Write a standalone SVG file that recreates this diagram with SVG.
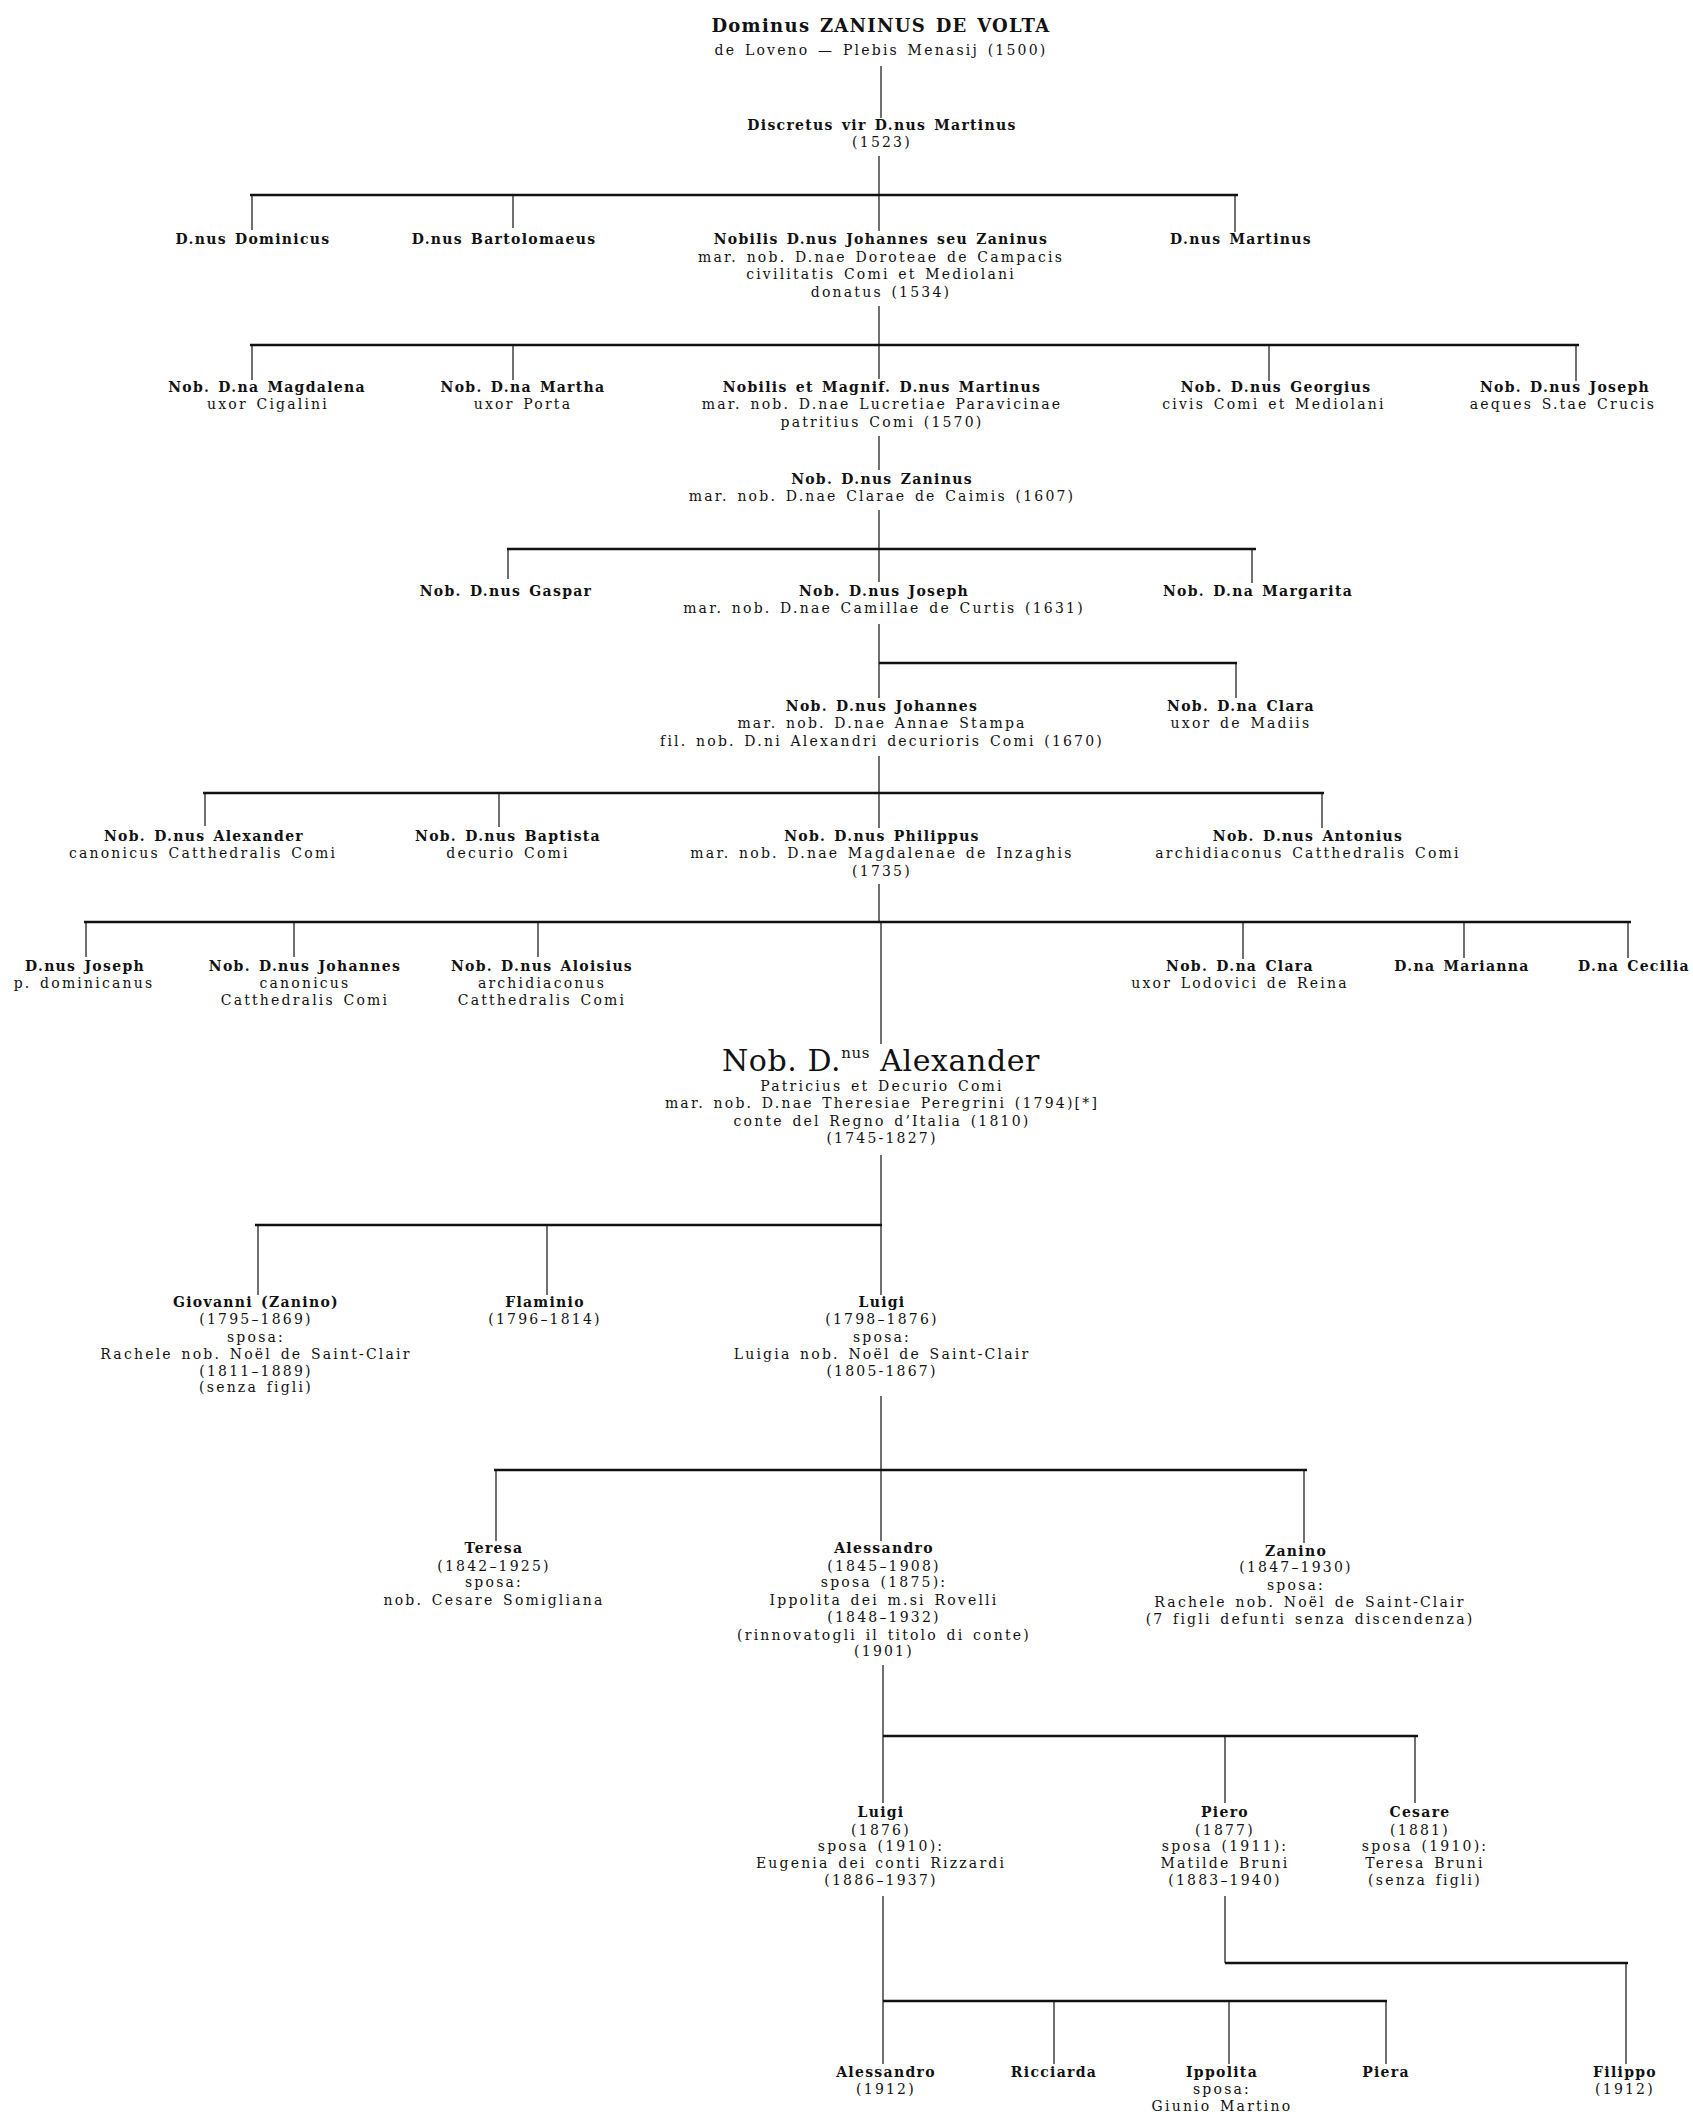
<svg xmlns="http://www.w3.org/2000/svg" width="1693" height="2121" viewBox="0 0 1693 2121">
<style>
text{font-family:"DejaVu Serif","Liberation Serif",serif;font-size:14px;text-anchor:middle;fill:#111;letter-spacing:2.2px;word-spacing:2px}
.b{font-weight:bold;letter-spacing:1.3px}
.t{font-size:18px}
.big{font-size:30px;letter-spacing:0.6px;word-spacing:0}
.sup{font-size:15px}
.h{stroke:#111;stroke-width:2.6}
.v{stroke:#111;stroke-width:1.2}
</style>
<rect width="1693" height="2121" fill="#fff"/>
<g id="connectors">
<line class="v" x1="881" y1="66" x2="881" y2="118"/>
<line class="v" x1="879" y1="156" x2="879" y2="195"/>
<line class="h" x1="250" y1="195" x2="1238" y2="195"/>
<line class="v" x1="252" y1="195" x2="252" y2="230"/>
<line class="v" x1="513" y1="195" x2="513" y2="228"/>
<line class="v" x1="879" y1="195" x2="879" y2="231"/>
<line class="v" x1="1235" y1="195" x2="1235" y2="232"/>
<line class="v" x1="879" y1="306" x2="879" y2="345"/>
<line class="h" x1="250" y1="345" x2="1579" y2="345"/>
<line class="v" x1="252" y1="345" x2="252" y2="380"/>
<line class="v" x1="513" y1="345" x2="513" y2="380"/>
<line class="v" x1="879" y1="345" x2="879" y2="379"/>
<line class="v" x1="1269" y1="345" x2="1269" y2="381"/>
<line class="v" x1="1576" y1="345" x2="1576" y2="381"/>
<line class="v" x1="879" y1="436" x2="879" y2="470"/>
<line class="v" x1="879" y1="510" x2="879" y2="549"/>
<line class="h" x1="507" y1="549" x2="1256" y2="549"/>
<line class="v" x1="508" y1="549" x2="508" y2="579"/>
<line class="v" x1="879" y1="549" x2="879" y2="582"/>
<line class="v" x1="1252" y1="549" x2="1252" y2="583"/>
<line class="v" x1="879" y1="624" x2="879" y2="698"/>
<line class="h" x1="879" y1="663" x2="1237" y2="663"/>
<line class="v" x1="1236" y1="663" x2="1236" y2="698"/>
<line class="v" x1="879" y1="756" x2="879" y2="793"/>
<line class="h" x1="203" y1="793" x2="1324" y2="793"/>
<line class="v" x1="205" y1="793" x2="205" y2="826"/>
<line class="v" x1="499" y1="793" x2="499" y2="827"/>
<line class="v" x1="879" y1="793" x2="879" y2="828"/>
<line class="v" x1="1322" y1="793" x2="1322" y2="828"/>
<line class="v" x1="879" y1="884" x2="879" y2="922"/>
<line class="h" x1="84" y1="922" x2="1631" y2="922"/>
<line class="v" x1="86" y1="922" x2="86" y2="957"/>
<line class="v" x1="294" y1="922" x2="294" y2="957"/>
<line class="v" x1="538" y1="922" x2="538" y2="957"/>
<line class="v" x1="881" y1="922" x2="881" y2="1044"/>
<line class="v" x1="1243" y1="922" x2="1243" y2="959"/>
<line class="v" x1="1464" y1="922" x2="1464" y2="958"/>
<line class="v" x1="1628" y1="922" x2="1628" y2="958"/>
<line class="v" x1="881" y1="1155" x2="881" y2="1225"/>
<line class="h" x1="255" y1="1225" x2="882" y2="1225"/>
<line class="v" x1="258" y1="1225" x2="258" y2="1295"/>
<line class="v" x1="547" y1="1225" x2="547" y2="1295"/>
<line class="v" x1="881" y1="1225" x2="881" y2="1295"/>
<line class="v" x1="881" y1="1396" x2="881" y2="1470"/>
<line class="h" x1="494" y1="1470" x2="1307" y2="1470"/>
<line class="v" x1="496" y1="1470" x2="496" y2="1541"/>
<line class="v" x1="881" y1="1470" x2="881" y2="1541"/>
<line class="v" x1="1304" y1="1470" x2="1304" y2="1543"/>
<line class="v" x1="883" y1="1665" x2="883" y2="1736"/>
<line class="h" x1="883" y1="1736" x2="1418" y2="1736"/>
<line class="v" x1="883" y1="1736" x2="883" y2="1803"/>
<line class="v" x1="1225" y1="1736" x2="1225" y2="1803"/>
<line class="v" x1="1415" y1="1736" x2="1415" y2="1803"/>
<line class="v" x1="883" y1="1896" x2="883" y2="2064"/>
<line class="v" x1="1225" y1="1896" x2="1225" y2="1963"/>
<line class="h" x1="1225" y1="1963" x2="1628" y2="1963"/>
<line class="v" x1="1626" y1="1963" x2="1626" y2="2064"/>
<line class="h" x1="883" y1="2001" x2="1387" y2="2001"/>
<line class="v" x1="1054" y1="2001" x2="1054" y2="2064"/>
<line class="v" x1="1229" y1="2001" x2="1229" y2="2064"/>
<line class="v" x1="1386" y1="2001" x2="1386" y2="2064"/>
</g>
<g id="n-zaninus-root"><text class="b t" x="881" y="32">Dominus ZANINUS DE VOLTA</text><text x="881" y="55">de Loveno — Plebis Menasij (1500)</text></g>
<g id="n-martinus-1523"><text class="b" x="882" y="130">Discretus vir D.nus Martinus</text><text x="882" y="147">(1523)</text></g>
<g id="n-dominicus"><text class="b" x="253" y="244">D.nus Dominicus</text></g>
<g id="n-bartolomaeus"><text class="b" x="504" y="244">D.nus Bartolomaeus</text></g>
<g id="n-johannes-1534"><text class="b" x="881" y="244">Nobilis D.nus Johannes seu Zaninus</text><text x="881" y="261.5">mar. nob. D.nae Doroteae de Campacis</text><text x="881" y="279">civilitatis Comi et Mediolani</text><text x="881" y="296.5">donatus (1534)</text></g>
<g id="n-martinus-2"><text class="b" x="1241" y="244">D.nus Martinus</text></g>
<g id="n-magdalena"><text class="b" x="267" y="392">Nob. D.na Magdalena</text><text x="268" y="409">uxor Cigalini</text></g>
<g id="n-martha"><text class="b" x="523" y="392">Nob. D.na Martha</text><text x="523" y="409">uxor Porta</text></g>
<g id="n-martinus-1570"><text class="b" x="882" y="392">Nobilis et Magnif. D.nus Martinus</text><text x="882" y="409">mar. nob. D.nae Lucretiae Paravicinae</text><text x="882" y="427">patritius Comi (1570)</text></g>
<g id="n-georgius"><text class="b" x="1276" y="392">Nob. D.nus Georgius</text><text x="1274" y="409">civis Comi et Mediolani</text></g>
<g id="n-joseph-1"><text class="b" x="1565" y="392">Nob. D.nus Joseph</text><text x="1563" y="409">aeques S.tae Crucis</text></g>
<g id="n-zaninus-1607"><text class="b" x="882" y="484">Nob. D.nus Zaninus</text><text x="882" y="501">mar. nob. D.nae Clarae de Caimis (1607)</text></g>
<g id="n-gaspar"><text class="b" x="506" y="596">Nob. D.nus Gaspar</text></g>
<g id="n-joseph-1631"><text class="b" x="884" y="596">Nob. D.nus Joseph</text><text x="884" y="613">mar. nob. D.nae Camillae de Curtis (1631)</text></g>
<g id="n-margarita"><text class="b" x="1258" y="596">Nob. D.na Margarita</text></g>
<g id="n-johannes-1670"><text class="b" x="882" y="711">Nob. D.nus Johannes</text><text x="882" y="728">mar. nob. D.nae Annae Stampa</text><text x="882" y="746">fil. nob. D.ni Alexandri decurioris Comi (1670)</text></g>
<g id="n-clara-1"><text class="b" x="1241" y="711">Nob. D.na Clara</text><text x="1241" y="728">uxor de Madiis</text></g>
<g id="n-alexander-1"><text class="b" x="204" y="841">Nob. D.nus Alexander</text><text x="203" y="858">canonicus Catthedralis Comi</text></g>
<g id="n-baptista"><text class="b" x="508" y="841">Nob. D.nus Baptista</text><text x="508" y="858">decurio Comi</text></g>
<g id="n-philippus"><text class="b" x="882" y="841">Nob. D.nus Philippus</text><text x="882" y="858">mar. nob. D.nae Magdalenae de Inzaghis</text><text x="882" y="876">(1735)</text></g>
<g id="n-antonius"><text class="b" x="1308" y="841">Nob. D.nus Antonius</text><text x="1308" y="858">archidiaconus Catthedralis Comi</text></g>
<g id="n-joseph-2"><text class="b" x="85" y="971">D.nus Joseph</text><text x="84" y="988">p. dominicanus</text></g>
<g id="n-johannes-2"><text class="b" x="305" y="971">Nob. D.nus Johannes</text><text x="305" y="988">canonicus</text><text x="305" y="1005">Catthedralis Comi</text></g>
<g id="n-aloisius"><text class="b" x="542" y="971">Nob. D.nus Aloisius</text><text x="542" y="988">archidiaconus</text><text x="542" y="1005">Catthedralis Comi</text></g>
<g id="n-clara-2"><text class="b" x="1240" y="971">Nob. D.na Clara</text><text x="1240" y="988">uxor Lodovici de Reina</text></g>
<g id="n-marianna"><text class="b" x="1462" y="971">D.na Marianna</text></g>
<g id="n-cecilia"><text class="b" x="1634" y="971">D.na Cecilia</text></g>
<g id="n-alexander-1745"><text class="big" x="881" y="1071">Nob. D.<tspan class="sup" dy="-13">nus</tspan><tspan dy="13"> Alexander</tspan></text><text x="882" y="1091">Patricius et Decurio Comi</text><text x="882" y="1108">mar. nob. D.nae Theresiae Peregrini (1794)[*]</text><text x="882" y="1126">conte del Regno d’Italia (1810)</text><text x="882" y="1143">(1745-1827)</text></g>
<g id="n-giovanni"><text class="b" x="256" y="1307">Giovanni (Zanino)</text><text x="256" y="1324">(1795–1869)</text><text x="256" y="1342">sposa:</text><text x="256" y="1359">Rachele nob. Noël de Saint-Clair</text><text x="256" y="1376">(1811–1889)</text><text x="256" y="1392">(senza figli)</text></g>
<g id="n-flaminio"><text class="b" x="545" y="1307">Flaminio</text><text x="545" y="1324">(1796–1814)</text></g>
<g id="n-luigi-1798"><text class="b" x="882" y="1307">Luigi</text><text x="882" y="1324">(1798–1876)</text><text x="882" y="1342">sposa:</text><text x="882" y="1359">Luigia nob. Noël de Saint-Clair</text><text x="882" y="1376">(1805-1867)</text></g>
<g id="n-teresa"><text class="b" x="494" y="1553">Teresa</text><text x="494" y="1571">(1842–1925)</text><text x="494" y="1587">sposa:</text><text x="494" y="1605">nob. Cesare Somigliana</text></g>
<g id="n-alessandro-1845"><text class="b" x="884" y="1553">Alessandro</text><text x="884" y="1571">(1845–1908)</text><text x="884" y="1587">sposa (1875):</text><text x="884" y="1605">Ippolita dei m.si Rovelli</text><text x="884" y="1622">(1848–1932)</text><text x="884" y="1640">(rinnovatogli il titolo di conte)</text><text x="884" y="1656">(1901)</text></g>
<g id="n-zanino-1847"><text class="b" x="1296" y="1556">Zanino</text><text x="1296" y="1572">(1847–1930)</text><text x="1296" y="1590">sposa:</text><text x="1310" y="1607">Rachele nob. Noël de Saint-Clair</text><text x="1310" y="1624">(7 figli defunti senza discendenza)</text></g>
<g id="n-luigi-1876"><text class="b" x="881" y="1817">Luigi</text><text x="881" y="1835">(1876)</text><text x="881" y="1851">sposa (1910):</text><text x="881" y="1868">Eugenia dei conti Rizzardi</text><text x="881" y="1885">(1886–1937)</text></g>
<g id="n-piero"><text class="b" x="1225" y="1817">Piero</text><text x="1225" y="1835">(1877)</text><text x="1225" y="1851">sposa (1911):</text><text x="1225" y="1868">Matilde Bruni</text><text x="1225" y="1885">(1883–1940)</text></g>
<g id="n-cesare"><text class="b" x="1420" y="1817">Cesare</text><text x="1420" y="1835">(1881)</text><text x="1425" y="1851">sposa (1910):</text><text x="1425" y="1868">Teresa Bruni</text><text x="1425" y="1885">(senza figli)</text></g>
<g id="n-alessandro-1912"><text class="b" x="886" y="2077">Alessandro</text><text x="886" y="2094">(1912)</text></g>
<g id="n-ricciarda"><text class="b" x="1054" y="2077">Ricciarda</text></g>
<g id="n-ippolita"><text class="b" x="1222" y="2077">Ippolita</text><text x="1222" y="2094">sposa:</text><text x="1222" y="2111">Giunio Martino</text></g>
<g id="n-piera"><text class="b" x="1386" y="2077">Piera</text></g>
<g id="n-filippo"><text class="b" x="1625" y="2077">Filippo</text><text x="1625" y="2094">(1912)</text></g>
</svg>
